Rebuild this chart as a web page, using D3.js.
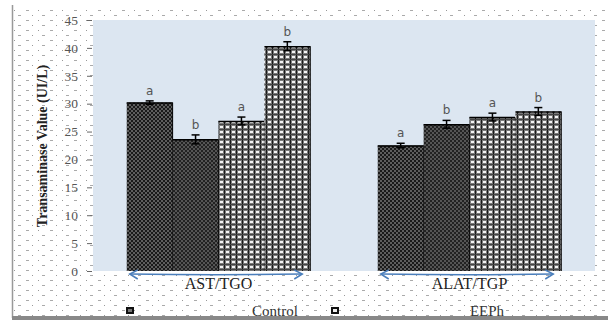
<!DOCTYPE html>
<html><head><meta charset="utf-8">
<script src="https://cdn.jsdelivr.net/npm/d3@7"></script>
<style>body{margin:0;background:#fff}svg{display:block}</style>
</head><body>
<svg id="c" width="608" height="320"></svg>
<script>
const groups = ["AST/TGO", "ALAT/TGP"];
const series = ["s1", "s2", "s3", "s4"];
const values = [[30.2, 23.6, 26.9, 40.3], [22.5, 26.3, 27.6, 28.6]];
const errors = [[0.3, 0.8, 0.7, 0.8], [0.4, 0.7, 0.7, 0.7]];
const letters = [["a", "b", "a", "b"], ["a", "b", "a", "b"]];
const yTicks = [0, 5, 10, 15, 20, 25, 30, 35, 40, 45];
const legendNames = ["Control", "EEPh"];
const yTitle = "Transaminase Value (UI/L)";

const svg = d3.select("#c");
const defs = svg.append("defs");
const serif = "Liberation Serif, Times New Roman, serif";

// dotted background pattern
const bg = defs.append("pattern").attr("id","dots").attr("patternUnits","userSpaceOnUse")
  .attr("width",24).attr("height",10).attr("x",0).attr("y",0);
bg.append("rect").attr("x",2).attr("y",0).attr("width",3).attr("height",1).attr("fill","#aaa");
bg.append("rect").attr("x",14).attr("y",0).attr("width",1).attr("height",1).attr("fill","#999");
bg.append("rect").attr("x",8).attr("y",5).attr("width",1).attr("height",1).attr("fill","#999");
bg.append("rect").attr("x",18).attr("y",5).attr("width",3).attr("height",1).attr("fill","#aaa");

// dark checker pattern
function dark(id, c1, c2){
  const p = defs.append("pattern").attr("id",id).attr("patternUnits","userSpaceOnUse")
    .attr("width",4).attr("height",4);
  p.append("rect").attr("width",4).attr("height",4).attr("fill",c1);
  p.append("rect").attr("width",2).attr("height",2).attr("fill",c2);
  p.append("rect").attr("x",2).attr("y",2).attr("width",2).attr("height",2).attr("fill",c2);
}
dark("p0","#1a1a1a","#5e5e5e");
dark("p1","#222","#555");
function light(id){
  const p = defs.append("pattern").attr("id",id).attr("patternUnits","userSpaceOnUse")
    .attr("width",6).attr("height",5);
  p.append("rect").attr("width",6).attr("height",5).attr("fill","#7a7a7a");
  p.append("rect").attr("x",1).attr("y",1).attr("width",3).attr("height",2).attr("fill","#f4f4f4");
  p.append("rect").attr("x",5).attr("y",0).attr("width",1).attr("height",5).attr("fill","#1a1a1a");
  p.append("rect").attr("x",0).attr("y",4).attr("width",6).attr("height",1).attr("fill","#444");
}
light("p2"); light("p3");
const fills = ["url(#p0)","url(#p1)","url(#p2)","url(#p3)"];

svg.append("rect").attr("x",13).attr("y",8).attr("width",595).attr("height",308).attr("fill","url(#dots)");

const plot = {l:93, r:595, t:20, b:271};
svg.append("rect").attr("x",plot.l).attr("y",plot.t).attr("width",plot.r-plot.l).attr("height",plot.b-plot.t).attr("fill","#dce6f1");

const x0 = d3.scaleBand().domain(groups).range([plot.l, plot.r]);
const x1 = d3.scaleBand().domain(series).range([0, x0.bandwidth()]).paddingOuter(0.735);
const y = d3.scaleLinear().domain([0,45]).range([plot.b, plot.t]);

// y axis
const ya = svg.append("g").attr("transform",`translate(${plot.l-1},0)`)
  .call(d3.axisLeft(y).tickValues(yTicks).tickSize(5).tickPadding(9));
ya.select(".domain").remove();
ya.selectAll(".tick line").attr("stroke","#666");
ya.selectAll(".tick text").attr("fill","#555").attr("font-family",serif).attr("font-size",13.5);

svg.append("text").attr("transform",`translate(47,146) rotate(-90)`).attr("text-anchor","middle")
  .attr("font-family",serif).attr("font-weight","bold").attr("font-size",14).attr("fill","#222")
  .text(yTitle);

// bars
groups.forEach((g, gi) => {
  const gg = svg.append("g").attr("transform",`translate(${x0(g)},0)`);
  series.forEach((s, si) => {
    const v = values[gi][si], e = errors[gi][si];
    const bx = x1(s), bw = x1.bandwidth();
    gg.append("rect").attr("x",bx).attr("y",y(v)).attr("width",bw).attr("height",y(0)-y(v))
      .attr("fill",fills[si]);
    gg.append("line").attr("x1",bx).attr("x2",bx+bw).attr("y1",y(v)+0.5).attr("y2",y(v)+0.5).attr("stroke","#000").attr("stroke-width",1.5);
    gg.append("line").attr("x1",bx+bw).attr("x2",bx+bw).attr("y1",y(v)).attr("y2",y(0)).attr("stroke","#000").attr("stroke-width",1);
    const cx = bx + bw/2;
    gg.append("line").attr("x1",cx).attr("x2",cx).attr("y1",y(v+e)).attr("y2",y(v-e)).attr("stroke","#000").attr("stroke-width",1.5);
    [v+e, v-e].forEach(t => gg.append("line").attr("x1",cx-4).attr("x2",cx+4).attr("y1",y(t)).attr("y2",y(t)).attr("stroke","#000").attr("stroke-width",1.5));
    gg.append("text").attr("x",cx).attr("y",y(v+e)-6).attr("text-anchor","middle")
      .attr("font-family","DejaVu Sans, sans-serif").attr("font-size",12).attr("fill","#555").text(letters[gi][si]);
  });
  // arrow
  const xs = x0(g) + x1(series[0]) + 3, xe = x0(g) + x1(series[3]) + x1.bandwidth() - 8;
  const ay = plot.b + 3;
  const a = svg.append("g").attr("stroke","#4a7ebb").attr("stroke-width",1.5).attr("fill","none");
  a.append("path").attr("d",`M${xs},${ay} Q${(xs+xe)/2},${ay+1.5} ${xe},${ay}`);
  a.append("path").attr("d",`M${xs+8},${ay-4} L${xs},${ay} L${xs+8},${ay+5}`);
  a.append("path").attr("d",`M${xe-8},${ay-4} L${xe},${ay} L${xe-8},${ay+5}`);
  svg.append("text").attr("x",x0(g)+x0.bandwidth()/2).attr("y",289).attr("text-anchor","middle")
    .attr("font-family",serif).attr("font-size",16).attr("fill","#222").text(g);
});

// legend
const leg = [{mx:126, tx:275, f:"url(#p0)"}, {mx:331, tx:487, f:"url(#p2)"}];
leg.forEach((d,i) => {
  svg.append("rect").attr("x",d.mx).attr("y",307).attr("width",8).attr("height",7).attr("fill","#111");
  svg.append("rect").attr("x",d.mx+2).attr("y",309).attr("width",4).attr("height",3).attr("fill",i===0?"#777":"#eee");
  svg.append("text").attr("x",d.tx).attr("y",316).attr("text-anchor","middle")
    .attr("font-family",serif).attr("font-size",15).attr("fill","#333").text(legendNames[i]);
});

// frame
svg.append("line").attr("x1",12.5).attr("x2",12.5).attr("y1",5).attr("y2",318).attr("stroke","#999").attr("stroke-width",1.5);
svg.append("rect").attr("x",12).attr("y",316).attr("width",596).attr("height",4).attr("fill","#888");
</script>
</body></html>
